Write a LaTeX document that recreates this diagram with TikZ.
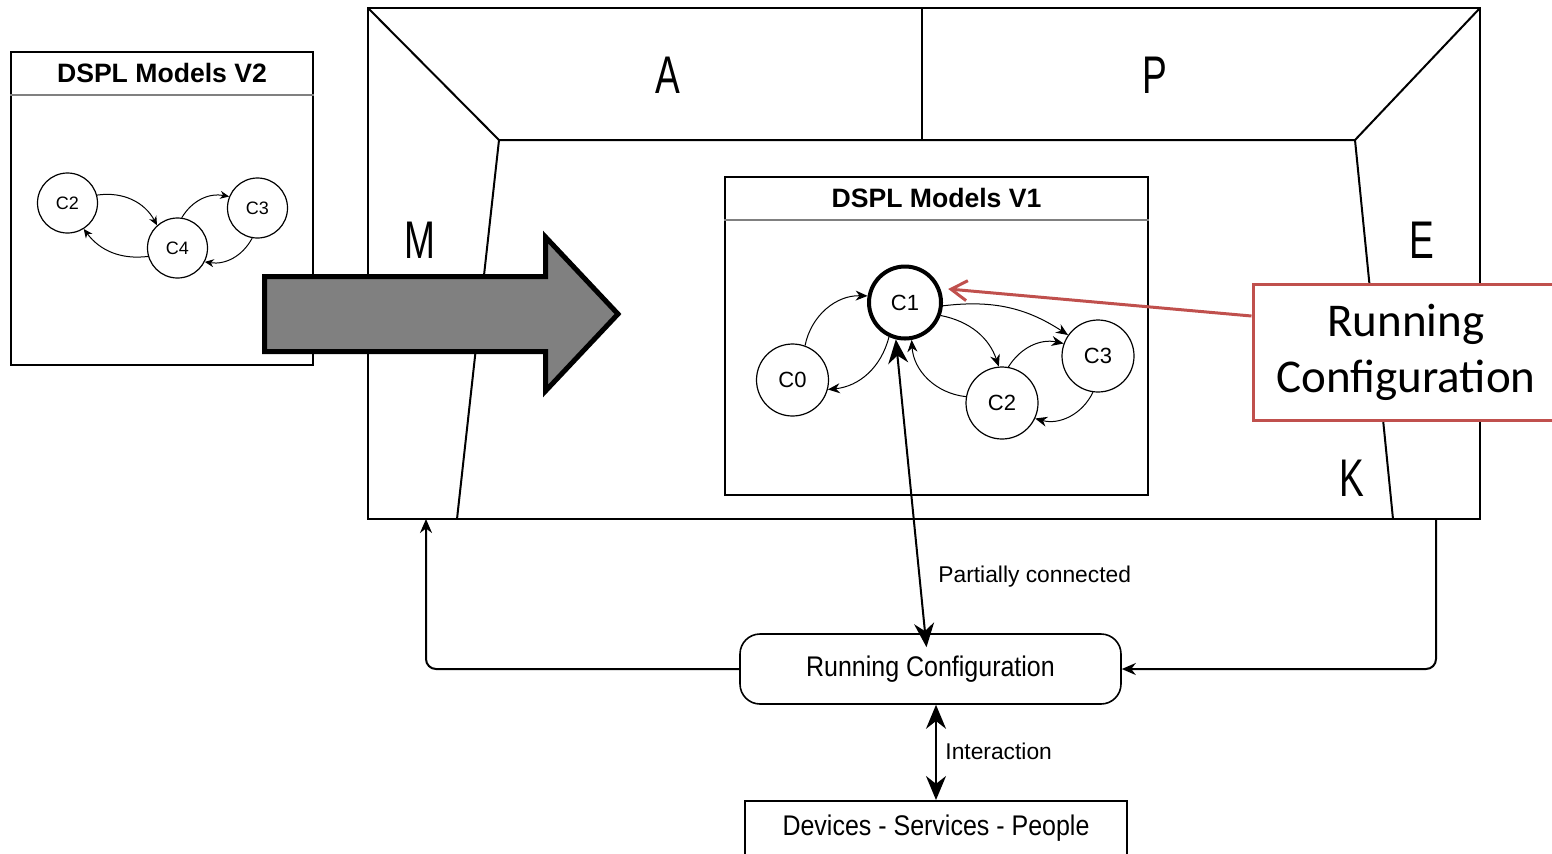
\documentclass[tikz,border=0pt]{standalone}
\usepackage{fontspec}
\setmainfont{Liberation Sans}
\newfontfamily\narrowfont[FakeStretch=0.88]{Liberation Sans}
\newfontfamily\letterfont[FakeStretch=0.7]{Liberation Sans}
\newfontfamily\calloutfont{Carlito}
\usetikzlibrary{positioning, arrows.meta}
\definecolor{calloutred}{RGB}{192,80,77}

\begin{document}
\begin{tikzpicture}[x=0.5pt, y=-0.5pt,
  frameline/.style = {line width=1pt},
  panel/.style = {draw, line width=0.8pt, inner sep=0pt},
  paneltitle/.style = {font=\bfseries\fontsize{13.3}{15}\selectfont},
  state/.style = {draw, circle, line width=0.6pt, minimum size=36pt, inner sep=0pt, font=\fontsize{11}{12}\selectfont},
  small state/.style = {state, minimum size=30pt, font=\fontsize{9}{10}\selectfont},
  edge/.style = {-{Stealth[length=6pt,width=5pt]}, line width=0.5pt},
  small edge/.style = {-{Stealth[length=4.5pt,width=4pt]}, line width=0.5pt},
  link/.style = {-{Stealth[length=7pt,width=6pt]}, line width=1pt, rounded corners=5pt},
  both/.style = {{Stealth[length=12pt,width=10pt]}-{Stealth[length=12pt,width=10pt]}, line width=1pt},
  phase/.style = {font=\letterfont\fontsize{26.5}{28}\selectfont},
  note/.style = {font=\fontsize{11.4}{13}\selectfont, anchor=west, inner sep=0pt}]

  \useasboundingbox (0,0) rectangle (1552,853);

  % MAPE-K frame
  \draw[frameline] (368,8) rectangle (1480,519);
  \draw[frameline] (368,8) -- (499,140) -- (1355,140) -- (1480,8);
  \draw[frameline] (499,140) -- (457,519);
  \draw[frameline] (1355,140) -- (1393,519);
  \draw[frameline] (922,8) -- (922,140);
  \coordinate (mIn) at (426,519);
  \coordinate (kOut) at (1436,519);

  \node[phase] (a) at (668,75) {A};
  \node[phase] (p) at (1155,75) {P};
  \node[phase] (m) at (420,240) {M};
  \node[phase] (e) at (1422,240) {E};
  \node[phase] (k) at (1352,478) {K};

  % models V2
  \node[panel, minimum width=151pt, minimum height=156.5pt] (v2) at (162,208.5) {};
  \node[paneltitle] (v2title) at ([yshift=-11pt]v2.north) {DSPL Models V2};
  \draw[gray, line width=0.8pt] ([yshift=-22pt]v2.north west) -- ([yshift=-22pt]v2.north east);

  \node[small state] (v2c2) at (67.5,203) {C2};
  \node[small state] (v2c4) at (177.5,248) {C4};
  \node[small state] (v2c3) at (257.5,208) {C3};

  \draw[small edge] (v2c2.15) to[bend left=35] (v2c4.132);
  \draw[small edge] (v2c4.196) to[bend left=30] (v2c2.302);
  \draw[small edge] (v2c4.82) to[bend left=35] (v2c3.158);
  \draw[small edge] (v2c3.260) to[bend left=35] (v2c4.333);

  % models V1
  \node[panel, minimum width=211.5pt, minimum height=159pt] (v1) at (936.5,336) {};
  \node[paneltitle] (v1title) at ([yshift=-11pt]v1.north) {DSPL Models V1};
  \draw[gray, line width=0.8pt] ([yshift=-22pt]v1.north west) -- ([yshift=-22pt]v1.north east);

  \node[state, line width=2pt] (c1) at (905,302.5) {C1};
  \node[state] (c0) at (792.5,380) {C0};
  \node[state] (c2) at (1002,403) {C2};
  \node[state] (c3) at (1098,356) {C3};

  \draw[edge] (c0.70) to[bend left=40] (c1.170);
  \draw[edge] (c1.245) to[bend left=35] (c0.345);
  \draw[edge] (c1.355) to[bend left=20] (c3.145);
  \draw[edge] (c1.340) to[bend left=30] (c2.95);
  \draw[edge] (c2.170) to[bend left=40] (c1.280);
  \draw[edge] (c2.80) to[bend left=35] (c3.160);
  \draw[edge] (c3.262) to[bend left=40] (c2.335);

  % evolution arrow
  \draw[line width=2.5pt, fill=gray, line join=miter]
    (264.5,276.5) -- (545.5,276.5) -- (545.5,237) -- (618,314)
    -- (545.5,391) -- (545.5,351.5) -- (264.5,351.5) -- cycle;

  % callout
  \node[draw=calloutred, line width=1.5pt, fill=white, minimum width=153pt, minimum height=68pt,
    align=center, font=\calloutfont\fontsize{23.5}{28}\selectfont] (callout) at (1406,352)
    {Running\\Configuration};
  \draw[calloutred, line width=1.5pt, -{Straight Barb[length=8pt,width=10pt]}, shorten >=4pt]
    ([yshift=18pt]callout.west) -- (c1.22);

  % running system
  \node[draw, rounded corners=10pt, line width=0.8pt, minimum width=190.5pt, minimum height=35pt,
    font=\narrowfont\fontsize{14.2}{16}\selectfont] (rc) at (930.5,669) {Running Configuration};
  \node[draw, line width=0.8pt, anchor=north, minimum width=191pt, text height=10pt,
    text depth=25pt, inner ysep=7.5pt, font=\narrowfont\fontsize{14.2}{16}\selectfont] (dsp)
    at (936,800) {Devices - Services - People};

  \draw[both] (c1.256) -- ([xshift=-2pt, yshift=-7pt]rc.north);
  \draw[both] (rc.south -| dsp.north) -- (dsp.north);
  \draw[link] (rc.west) -| (mIn);
  \draw[link] (kOut) |- (rc.east);

  \node[note] (pclabel) at (938,577) {Partially connected};
  \node[note] (ilabel) at (945,751) {Interaction};
\end{tikzpicture}
\end{document}
